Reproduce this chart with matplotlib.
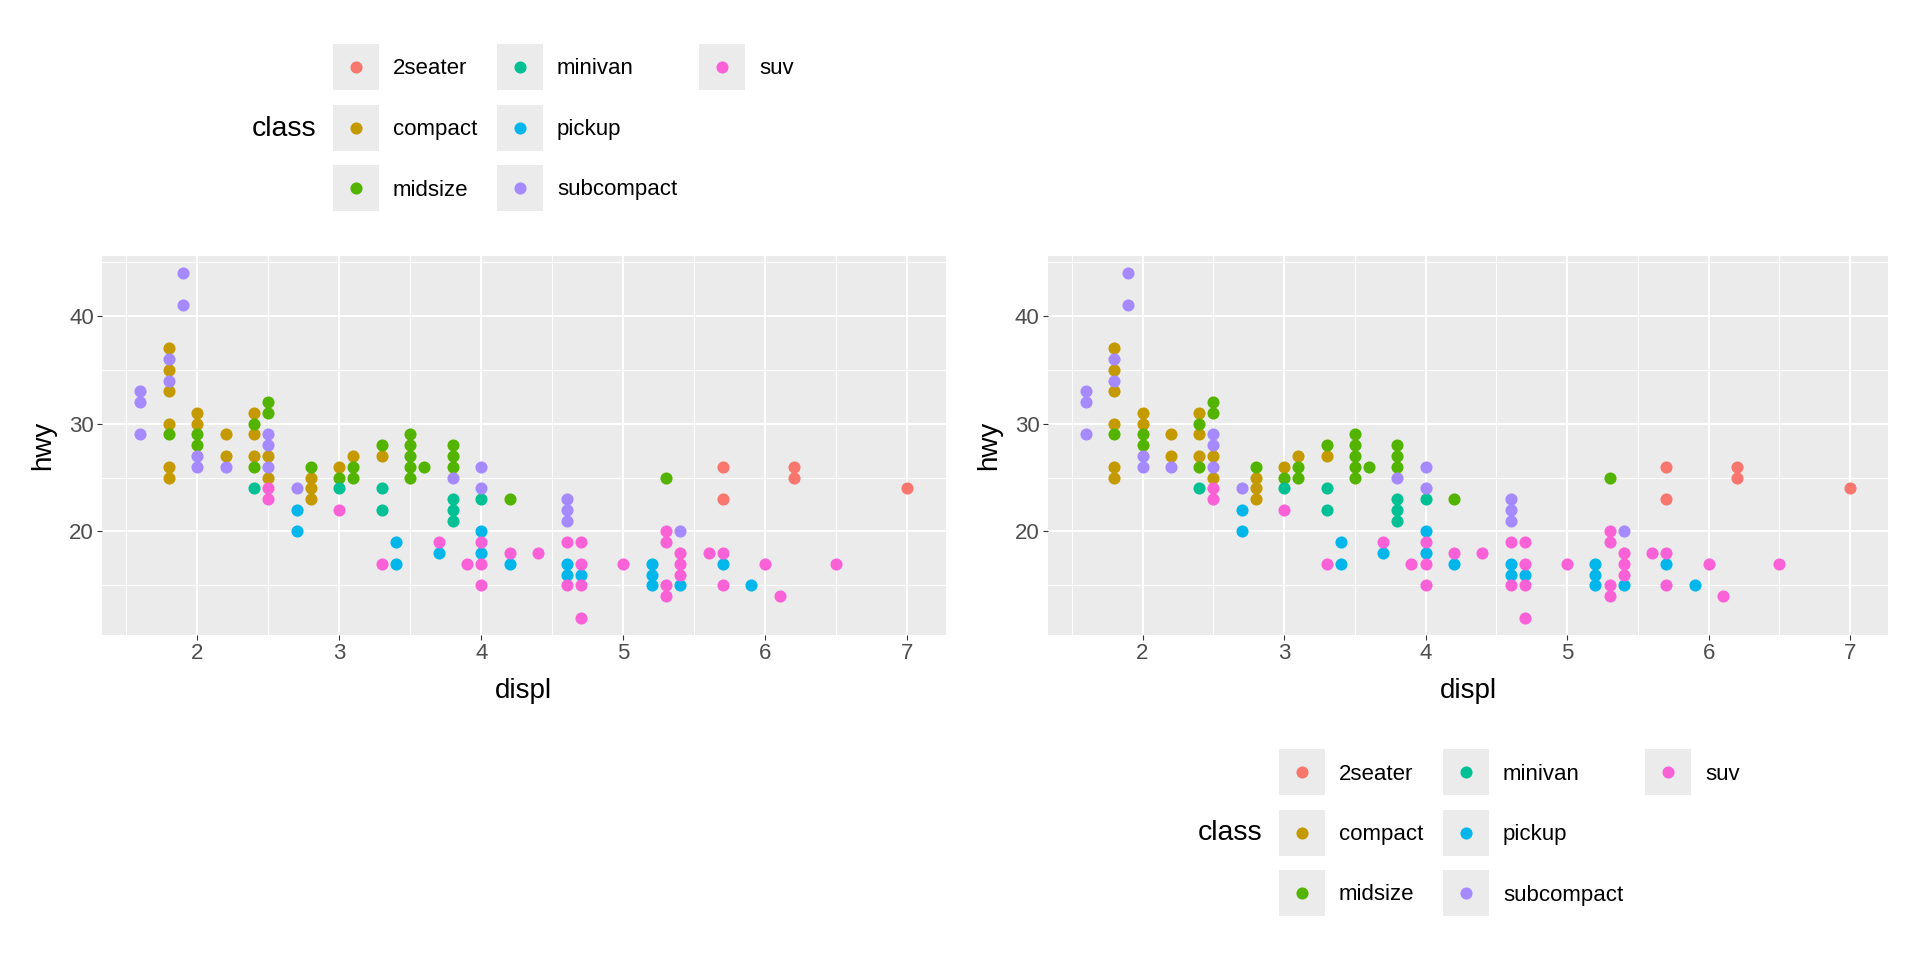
import matplotlib
matplotlib.use("Agg")
import matplotlib.pyplot as plt
from matplotlib.patches import Rectangle

plt.rcParams['font.family'] = ['Liberation Sans', 'DejaVu Sans']

# mpg: displ vs hwy, one list pair per class (points as seen on the chart)
classes = ["2seater", "compact", "midsize", "minivan", "pickup", "subcompact", "suv"]
colors = ["#F8766D", "#C49A00", "#53B400", "#00C094", "#00B6EB", "#A58AFF", "#FB61D7"]

displ_2seater = [5.7, 5.7, 6.2, 6.2, 7.0]
hwy_2seater = [26, 23, 26, 25, 24]

displ_compact = [1.8, 1.8, 1.8, 1.8, 1.8, 1.8, 2.0, 2.0, 2.2, 2.2, 2.4, 2.4, 2.4,
                 2.5, 2.5, 2.8, 2.8, 2.8, 3.0, 3.1, 3.3]
hwy_compact = [37, 35, 33, 30, 26, 25, 31, 30, 29, 27, 31, 29, 27,
               27, 25, 25, 24, 23, 26, 27, 27]

displ_midsize = [1.8, 2.0, 2.0, 2.4, 2.4, 2.5, 2.5, 2.8, 3.0, 3.1, 3.1, 3.3,
                 3.5, 3.5, 3.5, 3.5, 3.5, 3.6, 3.8, 3.8, 3.8, 4.2, 5.3]
hwy_midsize = [29, 29, 28, 30, 26, 32, 31, 26, 25, 26, 25, 28,
               29, 28, 27, 26, 25, 26, 28, 27, 26, 23, 25]

displ_minivan = [2.4, 3.0, 3.3, 3.3, 3.8, 3.8, 3.8, 4.0]
hwy_minivan = [24, 24, 24, 22, 23, 22, 21, 23]

displ_pickup = [2.7, 2.7, 3.4, 3.4, 3.7, 4.0, 4.0, 4.2, 4.6, 4.6, 4.7,
                5.2, 5.2, 5.2, 5.4, 5.7, 5.9]
hwy_pickup = [22, 20, 19, 17, 18, 20, 18, 17, 17, 16, 16,
              17, 16, 15, 15, 17, 15]

displ_subcompact = [1.6, 1.6, 1.6, 1.8, 1.8, 1.9, 1.9, 2.0, 2.0, 2.2, 2.5, 2.5,
                    2.5, 2.7, 3.8, 4.0, 4.0, 4.6, 4.6, 4.6, 5.4]
hwy_subcompact = [33, 32, 29, 36, 34, 44, 41, 27, 26, 26, 29, 28,
                  26, 24, 25, 26, 24, 23, 22, 21, 20]

displ_suv = [2.5, 2.5, 3.0, 3.3, 3.7, 3.9, 4.0, 4.0, 4.0, 4.2, 4.4, 4.6, 4.6,
             4.7, 4.7, 4.7, 4.7, 5.0, 5.3, 5.3, 5.3, 5.3, 5.4, 5.4, 5.4,
             5.6, 5.7, 5.7, 6.0, 6.1, 6.5]
hwy_suv = [24, 23, 22, 17, 19, 17, 19, 17, 15, 18, 18, 19, 15,
           19, 17, 15, 12, 17, 20, 19, 15, 14, 18, 17, 16,
           18, 18, 15, 17, 14, 17]

series = [
    (displ_2seater, hwy_2seater),
    (displ_compact, hwy_compact),
    (displ_midsize, hwy_midsize),
    (displ_minivan, hwy_minivan),
    (displ_pickup, hwy_pickup),
    (displ_subcompact, hwy_subcompact),
    (displ_suv, hwy_suv),
]

W, H = 1920, 960
fig = plt.figure(figsize=(W / 100, H / 100), dpi=100)

def px_axes(x0, y0, x1, y1):
    # axes from pixel box (top-left origin)
    return fig.add_axes([x0 / W, 1 - y1 / H, (x1 - x0) / W, (y1 - y0) / H])

def style_panel(ax):
    for (dx, hy), col in zip(series, colors):
        ax.scatter(dx, hy, s=76, color=col, linewidths=0, zorder=3)
    ax.set_xlim(1.33, 7.27)
    ax.set_ylim(10.4, 45.6)
    ax.set_facecolor("#EBEBEB")
    ax.set_xticks([2, 3, 4, 5, 6, 7])
    ax.set_xticks([1.5, 2.5, 3.5, 4.5, 5.5, 6.5], minor=True)
    ax.set_yticks([20, 30, 40])
    ax.set_yticks([15, 25, 35, 45], minor=True)
    ax.grid(which="major", color="white", linewidth=1.5)
    ax.grid(which="minor", color="white", linewidth=0.75)
    ax.set_axisbelow(True)
    for s in ax.spines.values():
        s.set_visible(False)
    ax.tick_params(which="major", length=3.3, width=0.8, color="#333333",
                   labelsize=16, labelcolor="#4D4D4D", pad=2.6)
    ax.tick_params(which="minor", length=0)
    ax.set_xlabel("displ", fontsize=20, labelpad=10)
    ax.set_ylabel("hwy", fontsize=20, labelpad=9)

ax1 = px_axes(102, 255.5, 945.8, 634.9)
style_panel(ax1)
ax2 = px_axes(1047.7, 255.5, 1888.4, 634.9)
style_panel(ax2)

# overlay in pixel coords for the two legends
over = fig.add_axes([0, 0, 1, 1])
over.set_xlim(0, W)
over.set_ylim(H, 0)
over.axis("off")
over.patch.set_visible(False)

def draw_legend(x0, y0):
    key = 46
    step = 60.5
    col_x = [0, 164, 366]
    for i, (cls, col) in enumerate(zip(classes, colors)):
        c, r = i // 3, i % 3
        kx = x0 + col_x[c]
        ky = y0 + r * step
        over.add_patch(Rectangle((kx, ky), key, key, facecolor="#EBEBEB", edgecolor="none"))
        over.scatter([kx + key / 2], [ky + key / 2], s=76, color=col, linewidths=0, zorder=3)
        over.text(kx + key + 14, ky + key / 2 + 2, cls, fontsize=16, va="center", ha="left")
    over.text(x0 - 81, y0 + step + key / 2 + 1, "class", fontsize=20.5, va="center", ha="left")

draw_legend(333, 44)
draw_legend(1279, 749)

fig.savefig("out.png", dpi=100, facecolor="white")
